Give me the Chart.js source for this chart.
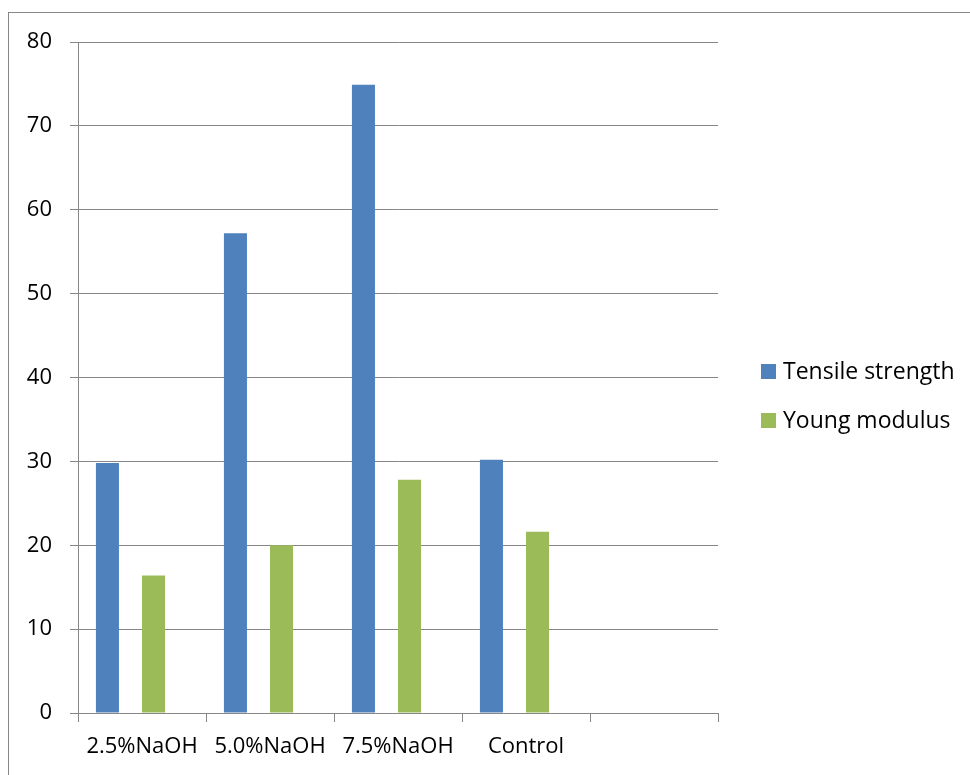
<!DOCTYPE html>
<html>
<head>
<meta charset="utf-8">
<script src="https://cdn.jsdelivr.net/npm/chart.js@4/dist/chart.umd.min.js"></script>
<style>
    html, body { margin: 0; padding: 0; background: #ffffff; }
    #chart { display: block; }
</style>
</head>
<body>
<canvas id="chart" width="970" height="775"></canvas>
<script>
// Data
const categories = ['2.5%NaOH', '5.0%NaOH', '7.5%NaOH', 'Control', ''];
const tensileStrength = [29.8, 57.2, 74.9, 30.2, null];
const youngModulus = [16.4, 20.0, 27.8, 21.6, null];
const emptySeries = [null, null, null, null, null];
const yTicks = [0, 10, 20, 30, 40, 50, 60, 70, 80];

// Style
const BLUE = '#4F81BD';
const GREEN = '#9BBB59';
const LINE_GRAY = '#878787';
const FONT = "'Open Sans', 'Liberation Sans', sans-serif";

// Frame around the whole chart (right and bottom edges fall off the page)
const framePlugin = {
    id: 'frame',
    beforeDraw(chart) {
        const ctx = chart.ctx;
        ctx.save();
        ctx.strokeStyle = LINE_GRAY;
        ctx.lineWidth = 1;
        ctx.strokeRect(8.5, 12.5, chart.width + 10, chart.height + 10);
        ctx.restore();
    }
};

// Legend on the right, drawn from the dataset labels
const legendPlugin = {
    id: 'sideLegend',
    afterDraw(chart) {
        const ctx = chart.ctx;
        let y = 372;
        ctx.save();
        ctx.font = `23px ${FONT}`;
        ctx.textBaseline = 'middle';
        ctx.textAlign = 'left';
        chart.data.datasets.forEach(ds => {
            if (!ds.label) return;
            ctx.fillStyle = ds.backgroundColor;
            ctx.fillRect(761, y - 8, 15, 15);
            ctx.fillStyle = '#000000';
            ctx.fillText(ds.label, 783, y);
            y += 49;
        });
        ctx.restore();
    }
};

function buildDatasets() {
    return [
        { label: 'Tensile strength', data: tensileStrength, backgroundColor: BLUE },
        { label: '', data: emptySeries, backgroundColor: 'rgba(0,0,0,0)' },
        { label: 'Young modulus', data: youngModulus, backgroundColor: GREEN },
        { label: '', data: emptySeries, backgroundColor: 'rgba(0,0,0,0)' }
    ];
}

const ctx = document.getElementById('chart').getContext('2d');
new Chart(ctx, {
    type: 'bar',
    data: { labels: categories, datasets: buildDatasets() },
    options: {
        responsive: false,
        animation: false,
        events: [],
        layout: { padding: { top: 42, right: 252, left: 0, bottom: 0 } },
        datasets: {
            bar: { categoryPercentage: 0.72, barPercentage: 1.0, borderWidth: 0 }
        },
        plugins: {
            legend: { display: false },
            tooltip: { enabled: false },
            title: { display: false }
        },
        scales: {
            x: {
                offset: true,
                grid: {
                    offset: true,
                    drawOnChartArea: false,
                    drawTicks: true,
                    tickLength: 9,
                    color: LINE_GRAY,
                    tickColor: LINE_GRAY
                },
                border: { display: true, color: LINE_GRAY, width: 1 },
                ticks: {
                    autoSkip: false,
                    maxRotation: 0,
                    padding: 12,
                    color: '#000000',
                    font: { family: FONT, size: 22 }
                },
                afterFit(scale) { scale.height = 62; }
            },
            y: {
                min: 0,
                max: 80,
                afterBuildTicks(scale) { scale.ticks = yTicks.map(v => ({ value: v })); },
                grid: {
                    color: LINE_GRAY,
                    tickColor: LINE_GRAY,
                    drawTicks: true,
                    tickLength: 8,
                    lineWidth: 1
                },
                border: { display: true, color: LINE_GRAY, width: 1 },
                ticks: {
                    padding: 18,
                    color: '#000000',
                    font: { family: FONT, size: 22 }
                },
                afterFit(scale) { scale.width = 78; }
            }
        }
    },
    plugins: [framePlugin, legendPlugin]
});
</script>
</body>
</html>
